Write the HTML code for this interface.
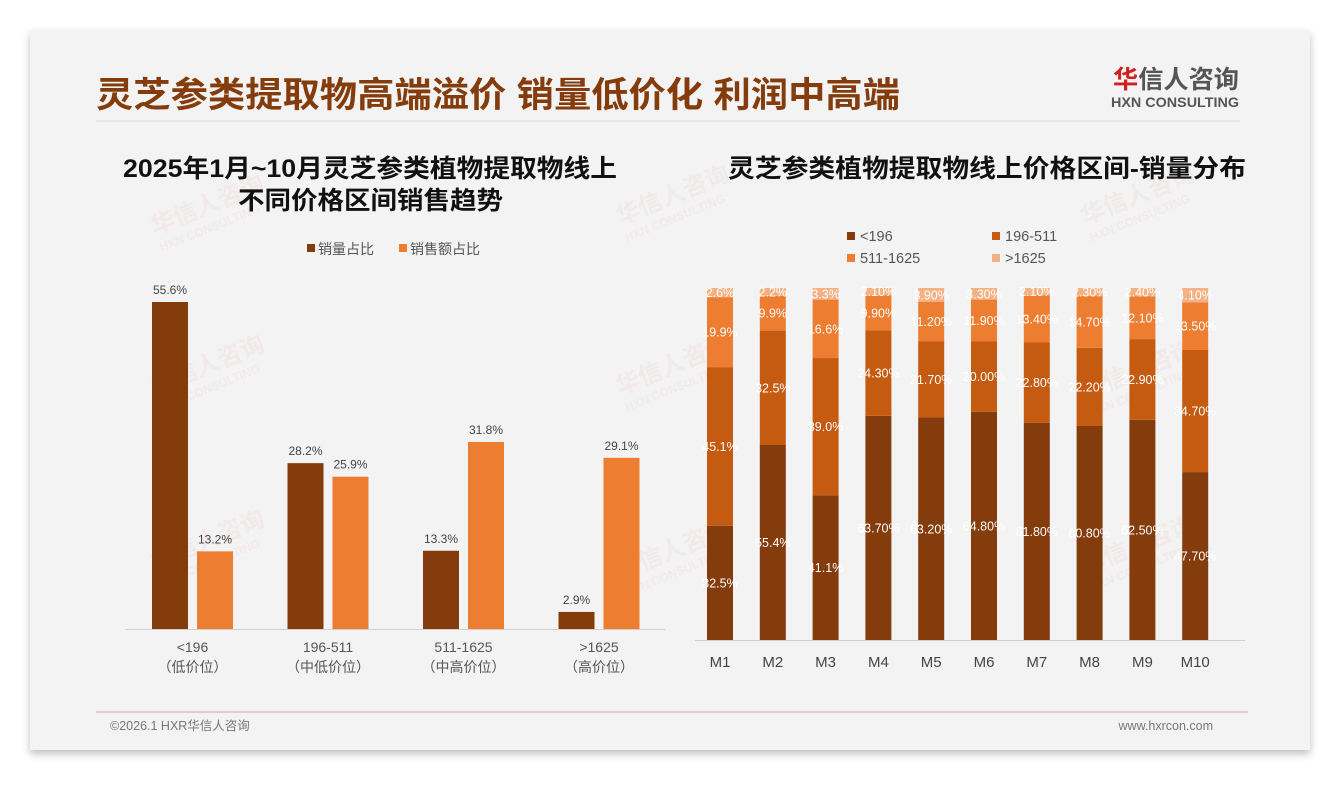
<!DOCTYPE html>
<html><head><meta charset="utf-8">
<style>
html,body{margin:0;padding:0;background:#fff;}
body{width:1340px;height:780px;overflow:hidden;font-family:"Liberation Sans","Noto Sans CJK SC",sans-serif;}
</style></head>
<body>
<svg id="root" width="1340" height="780" xmlns="http://www.w3.org/2000/svg" font-family="Liberation Sans, Noto Sans CJK SC, sans-serif">
<defs>
<filter id="sh" x="-5%" y="-5%" width="110%" height="115%"><feDropShadow dx="0" dy="4" stdDeviation="4" flood-color="#000" flood-opacity="0.25"/></filter>
</defs>
<rect x="30" y="30" width="1280" height="720" fill="#f3f3f3" filter="url(#sh)"/>
<text x="96" y="107" font-size="35" font-weight="bold" fill="#843C0C" textLength="804" lengthAdjust="spacingAndGlyphs">灵芝参类提取物高端溢价 销量低价化 利润中高端</text>
<g>
<text x="1113" y="88" font-size="25" font-weight="bold" fill="#555" textLength="126" lengthAdjust="spacingAndGlyphs"><tspan fill="#d02020">华</tspan>信人咨询</text>
<text x="1111" y="107" font-size="13.5" font-weight="bold" fill="#555" textLength="128" lengthAdjust="spacingAndGlyphs">HXN CONSULTING</text>
</g>
<line x1="96" y1="121" x2="1240" y2="121" stroke="#d8d8d8" stroke-width="1"/>
<g id="wm" fill="#e8c8c0" opacity="0.2" font-weight="bold"></g>
<text x="123" y="177" font-size="25" font-weight="bold" fill="#111" textLength="494" lengthAdjust="spacingAndGlyphs">2025年1月~10月灵芝参类植物提取物线上</text>
<text x="238" y="209" font-size="25" font-weight="bold" fill="#111" textLength="265" lengthAdjust="spacingAndGlyphs">不同价格区间销售趋势</text>
<text x="728" y="177" font-size="25" font-weight="bold" fill="#111" textLength="518" lengthAdjust="spacingAndGlyphs">灵芝参类植物提取物线上价格区间-销量分布</text>
<g id="left"></g>
<g id="right"></g>
<line x1="96" y1="712" x2="1248" y2="712" stroke="#c8aa98" stroke-width="1"/>
<text x="110" y="730" font-size="12.5" fill="#777">©2026.1 HXR华信人咨询</text>
<text x="1213" y="730" font-size="12.5" fill="#777" text-anchor="end">www.hxrcon.com</text>
</svg>
<script>
// Left chart data
const leftCats = ["<196","196-511","511-1625",">1625"];
const leftSub = ["（低价位）","（中低价位）","（中高价位）","（高价位）"];
const volShare = [55.6,28.2,13.3,2.9];
const valShare = [13.2,25.9,31.8,29.1];
const leftSeries = ["销量占比","销售额占比"];
// Right chart data
const months = ["M1","M2","M3","M4","M5","M6","M7","M8","M9","M10"];
const s196 = [32.5,55.4,41.1,63.7,63.2,64.8,61.8,60.8,62.5,47.7];
const s511 = [45.1,32.5,39.0,24.3,21.7,20.0,22.8,22.2,22.9,34.7];
const s1625 = [19.9,9.9,16.6,9.9,11.2,11.9,13.4,14.7,12.1,13.5];
const sTop = [2.6,2.2,3.3,2.1,3.9,3.3,2.1,2.3,2.4,4.1];
const rightSeries = ["<196","196-511","511-1625",">1625"];
const lblDecimals = [1,1,1,2,2,2,2,2,2,2];

const NS="http://www.w3.org/2000/svg";
function mk(parent,tag,attrs,txt){const e=document.createElementNS(NS,tag);for(const k in attrs)e.setAttribute(k,attrs[k]);if(txt!==undefined)e.textContent=txt;parent.appendChild(e);return e;}

// watermarks
const wm=document.getElementById('wm');
[[155,235],[620,225],[1085,225],[155,395],[620,395],[1085,400],[155,570],[620,580],[1085,575]].forEach(p=>{
  const g=mk(wm,'g',{transform:`translate(${p[0]},${p[1]}) rotate(-22)`});
  
  
  mk(g,'text',{x:0,y:0,'font-size':24},'华信人咨询');
  mk(g,'text',{x:0,y:18,'font-size':12},'HXN CONSULTING');
});

// Left chart
const L=document.getElementById('left');
const base=629, pxPer=327/55.6;
const ly=v=>base-v*pxPer;
const gx0=152, gStep=135.5, bw=36, gap=45;
const lcol=["#843C0C","#ED7D31"];
[[307,0],[399,1]].forEach(([x,i])=>{
  const g=mk(L,'g',{});
  
  
  mk(g,'rect',{x:x,y:244,width:8,height:8,fill:lcol[i]});
  mk(g,'text',{x:x+11,y:254,'font-size':14,fill:'#555'},leftSeries[i]);
});
mk(L,'line',{x1:125,y1:base+0.5,x2:665,y2:base+0.5,stroke:'#d0d0d0'});
leftCats.forEach((c,i)=>{
  const x0=gx0+i*gStep;
  [volShare[i],valShare[i]].forEach((v,j)=>{
    const x=x0+j*gap, y=ly(v);
    const r=mk(L,'rect',{x:x,y:y,width:bw,height:base-y,fill:lcol[j]});
    
    
    mk(L,'text',{x:x+bw/2,y:y-8,'font-size':12,fill:'#444','text-anchor':'middle'},v.toFixed(1)+'%');
  });
  const cx=x0+(gap+bw)/2;
  const t=mk(L,'text',{x:cx,y:652,'font-size':14,fill:'#555','text-anchor':'middle'},c);
  
  
  mk(L,'text',{x:cx,y:672,'font-size':14,fill:'#555','text-anchor':'middle'},leftSub[i]);
});

// Right chart
const R=document.getElementById('right');
const rb=640, rt=288, rh=rb-rt;
const rcol=["#843C0C","#C55A11","#ED7D31","#F4B183"];
const series=[s196,s511,s1625,sTop];
[[847,236,0],[992,236,1],[847,258,2],[992,258,3]].forEach(([x,y,i])=>{
  const g=mk(R,'g',{});
  
  
  mk(g,'rect',{x:x,y:y-4,width:8,height:8,fill:rcol[i]});
  mk(g,'text',{x:x+13,y:y+5,'font-size':14.5,fill:'#555'},rightSeries[i]);
});
mk(R,'line',{x1:695,y1:rb+0.5,x2:1245,y2:rb+0.5,stroke:'#d0d0d0'});
const cx0=720, step=52.8, rbw=26;
months.forEach((m,i)=>{
  const cx=cx0+i*step;
  let cum=0;
  const tot=series.reduce((a,s)=>a+s[i],0);
  series.forEach((s,k)=>{
    const v=s[i];
    const y1=rb-(cum/tot)*rh, y0=rb-((cum+v)/tot)*rh;
    const r=mk(R,'rect',{x:cx-rbw/2,y:y0,width:rbw,height:y1-y0,fill:rcol[k]});
    
    
    mk(R,'text',{x:cx,y:(y0+y1)/2+4.5,'font-size':12.5,fill:'#fff','text-anchor':'middle'},v.toFixed(lblDecimals[i])+'%');
    cum+=v;
  });
  const t=mk(R,'text',{x:cx,y:667,'font-size':15,fill:'#444','text-anchor':'middle'},m);
  
  
});
</script>
</body></html>
